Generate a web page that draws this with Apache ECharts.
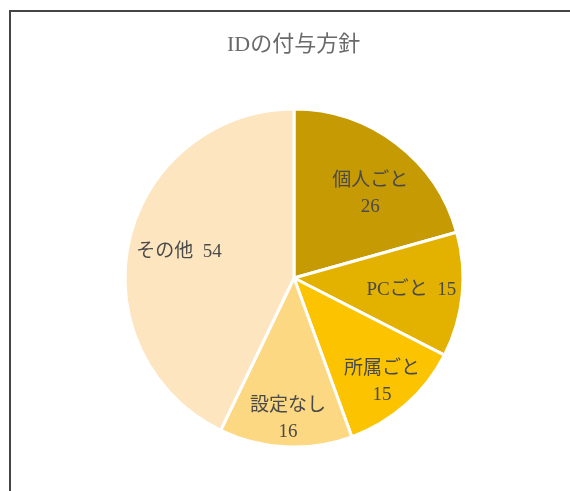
<!DOCTYPE html>
<html><head><meta charset="utf-8">
<script src="https://cdn.jsdelivr.net/npm/echarts@6/dist/echarts.min.js"></script>
<style>html,body{margin:0;padding:0;background:#fff}#c{width:570px;height:491px}</style>
</head><body><div id="c"></div>
<script>
const titleText = 'IDの付与方針';
const categories = ['個人ごと', 'PCごと', '所属ごと', '設定なし', 'その他'];
const values = [26, 15, 15, 16, 54];
const colors = ['#C59A03', '#E3B200', '#FCC400', '#FDD882', '#FDE6BF'];
const labelOffsets = [[5, 10], [0, 0], [10, 16], [0, 23], [0, 0]];
const singleLine = [false, true, false, false, true];

const FONT = '"Liberation Serif", "Noto Sans CJK JP", serif';
const chart = echarts.init(document.getElementById('c'));
const sliceData = categories.map((n, i) => ({name: n, value: values[i], itemStyle: {color: colors[i]}}));
const labelData = categories.map((n, i) => ({
  name: n, value: values[i],
  label: {offset: labelOffsets[i], formatter: singleLine[i] ? '{b}  {c}' : '{b}\n{c}'}
}));
chart.setOption({
  animation: false,
  title: {text: titleText, left: 222, top: 29,
    textStyle: {fontFamily: FONT, fontSize: 22, fontWeight: 'normal', color: '#6a6a6a'}},
  graphic: [{type: 'rect', shape: {x: 10, y: 11, width: 600, height: 520},
    style: {fill: 'none', stroke: '#454545', lineWidth: 2}, silent: true}],
  series: [
    {type: 'pie', center: [294, 278], radius: [0, 169], startAngle: 90, clockwise: true,
     data: sliceData, label: {show: false}, labelLine: {show: false},
     itemStyle: {borderColor: '#fff', borderWidth: 3}, emphasis: {disabled: true}},
    {type: 'pie', center: [294, 278], radius: [0, 230], startAngle: 90, clockwise: true,
     data: labelData, silent: true, itemStyle: {color: 'rgba(0,0,0,0)'},
     label: {show: true, position: 'inside', fontFamily: FONT, fontSize: 19, color: '#4a4a4a', lineHeight: 26},
     labelLine: {show: false}, emphasis: {disabled: true}}
  ]
});
</script></body></html>
